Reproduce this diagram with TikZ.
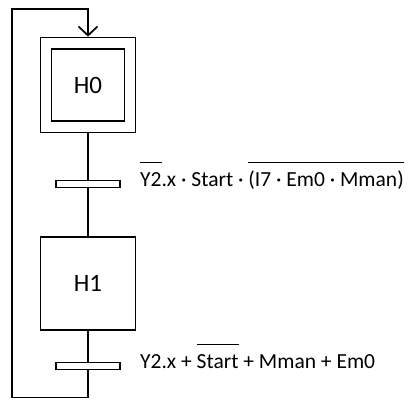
\documentclass[tikz,border=0pt]{standalone}
\usepackage{fontspec}
\setmainfont{Carlito}
\usetikzlibrary{arrows.meta}
\newcommand\myovl[2]{\setbox0\hbox{#2}\rlap{\raisebox{#1}{\rule{\wd0}{1pt}}}\box0\relax}
\tikzset{
  stepbox/.style={draw, line width=1.7pt, fill=white, inner sep=0pt},
  barbox/.style={draw, line width=1.7pt, fill=white, inner sep=0pt, minimum width=64pt, minimum height=7pt},
  steptext/.style={font=\fontsize{25}{30}\selectfont},
  condtext/.style={font=\fontsize{21.5}{26}\selectfont, anchor=base west, inner sep=0pt},
  link/.style={line width=1.7pt}
}
\begin{document}
\begin{tikzpicture}[x=1pt,y=-1pt]
\useasboundingbox (0,0) rectangle (409,399);
\node[stepbox, minimum width=95pt, minimum height=95pt] (H0o) at (88,85) {};
\node[stepbox, minimum width=73pt, minimum height=72pt, steptext] (H0) at (88,85) {H0};
\node[stepbox, minimum width=95pt, minimum height=93pt, steptext] (H1) at (88,283.7) {H1};
\node[barbox] (T1) at (88,184) {};
\node[barbox] (T2) at (88,366) {};
\coordinate (c1) at (88,397.5);
\coordinate (c2) at (12,397.5);
\coordinate (c3) at (12,9);
\coordinate (c4) at (88,9);
\draw[link] (H0o.south) -- (T1.north);
\draw[link] (T1.south) -- (H1.north);
\draw[link] (H1.south) -- (T2.north);
\draw[link, -{Straight Barb[length=9pt,width=19pt,line width=1.7pt]}] (T2.south) -- (c1) -- (c2) -- (c3) -- (c4) -- (H0o.north);
\node[condtext] (L1) at (140,186) {\myovl{23pt}{Y2}.x · Start · \myovl{23pt}{(I7 · Em0 · Mman)}};
\node[condtext] (L2) at (140,368) {Y2.x + \myovl{23pt}{Start} + Mman + Em0};
\end{tikzpicture}
\end{document}
